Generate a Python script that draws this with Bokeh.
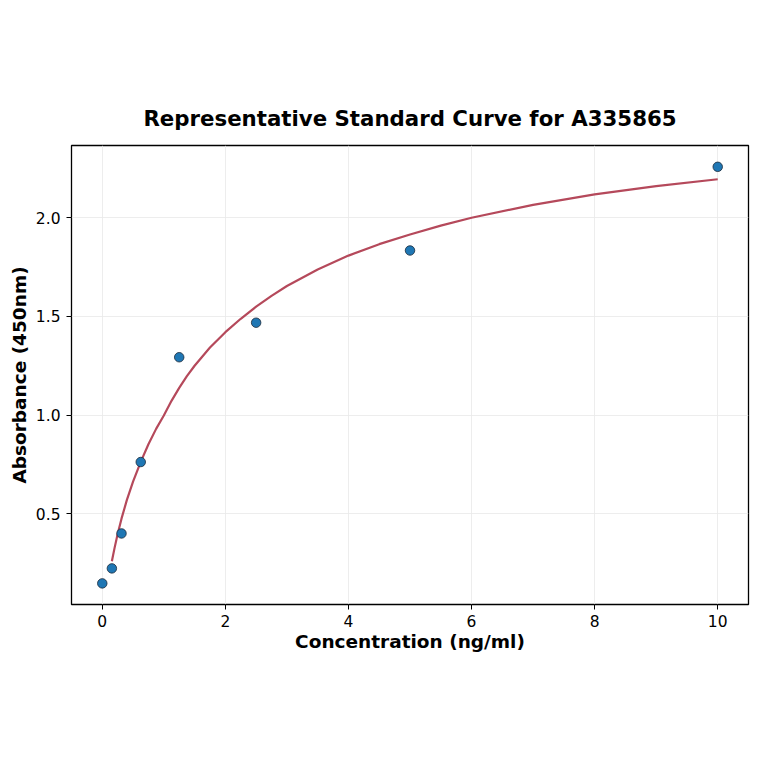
from bokeh.plotting import figure
from bokeh.models import Range1d, FixedTicker, PrintfTickFormatter
from bokeh.embed import file_html
from bokeh.resources import INLINE

# standards (measured points)
conc = [0.0, 0.156, 0.3125, 0.625, 1.25, 2.5, 5.0, 10.0]
absorb = [0.147, 0.223, 0.400, 0.762, 1.293, 1.468, 1.834, 2.258]

# fitted curve
fit_x = [0.156, 0.2, 0.25, 0.3125, 0.4, 0.5, 0.625, 0.75, 0.875, 1.0, 1.125, 1.25, 1.375,
         1.5, 1.75, 2.0, 2.25, 2.5, 2.75, 3.0, 3.5, 4.0, 4.5, 5.0, 5.5, 6.0, 7.0, 8.0, 9.0, 10.0]
fit_y = [0.259, 0.327, 0.397, 0.475, 0.570, 0.663, 0.763, 0.852, 0.930, 0.998, 1.072, 1.138, 1.197,
         1.250, 1.342, 1.420, 1.488, 1.549, 1.604, 1.654, 1.738, 1.808, 1.866, 1.915, 1.960, 2.0,
         2.065, 2.118, 2.160, 2.195]

x_ticks = [0, 2, 4, 6, 8, 10]
y_ticks = [0.5, 1.0, 1.5, 2.0]

title = "Representative Standard Curve for A335865"
x_label = "Concentration (ng/ml)"
y_label = "Absorbance (450nm)"

FONT = "DejaVu Sans"

p = figure(output_backend="svg", toolbar_location=None,
           x_range=Range1d(-0.5, 10.5), y_range=Range1d(0.04, 2.366),
           frame_width=677, frame_height=459,
           min_border_left=71, min_border_right=7, min_border_top=145, min_border_bottom=143)

p.title.text = title
p.title.text_font = FONT
p.title.text_font_size = "21.3px"
p.title.text_font_style = "bold"
p.title.text_color = "black"
p.title.align = "center"
p.title.standoff = 30

p.outline_line_color = "black"
p.outline_line_width = 1.3
p.background_fill_color = "white"
p.border_fill_color = "white"

for ax in (p.xaxis[0], p.yaxis[0]):
    ax.axis_line_color = None
    ax.major_tick_line_color = "black"
    ax.major_tick_out = 5
    ax.major_tick_in = 0
    ax.minor_tick_line_color = None
    ax.major_label_text_font = FONT
    ax.major_label_text_font_size = "15.5px"
    ax.major_label_text_color = "black"
    ax.axis_label_text_font = FONT
    ax.axis_label_text_font_size = "18.5px"
    ax.axis_label_text_font_style = "bold"
    ax.axis_label_text_color = "black"

p.xaxis[0].ticker = FixedTicker(ticks=x_ticks)
p.yaxis[0].ticker = FixedTicker(ticks=y_ticks)
p.yaxis[0].formatter = PrintfTickFormatter(format="%.1f")
p.xaxis[0].axis_label = x_label
p.yaxis[0].axis_label = y_label
p.xaxis[0].major_label_standoff = 5
p.yaxis[0].major_label_standoff = 6
p.xaxis[0].axis_label_standoff = 1
p.yaxis[0].axis_label_standoff = 3

p.xgrid.grid_line_color = "#e8e8e8"
p.ygrid.grid_line_color = "#e8e8e8"
p.xgrid.grid_line_width = 0.8
p.ygrid.grid_line_width = 0.8

p.line(fit_x, fit_y, line_color="#b5495b", line_width=2.2)
p.scatter(conc, absorb, size=9.5, fill_color="#1f77b4", line_color="#1a2a3a", line_width=0.8)

open("out.html", "w").write(file_html(p, INLINE))
